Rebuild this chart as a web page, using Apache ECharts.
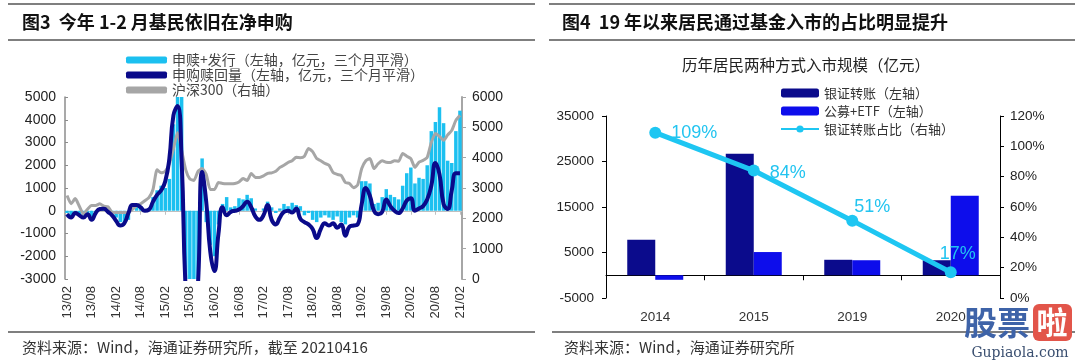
<!DOCTYPE html>
<html><head><meta charset="utf-8">
<script src="https://cdn.jsdelivr.net/npm/echarts/dist/echarts.min.js"></script>
<style>html,body{margin:0;padding:0;background:#fff}#c{width:1080px;height:361px}</style>
</head><body><div id="c"></div>
<script>
// ---------- Left chart data (monthly, 2013/02 - 2021/02) ----------
const months = [
'13/02','13/03','13/04','13/05','13/06','13/07','13/08','13/09','13/10','13/11','13/12',
'14/01','14/02','14/03','14/04','14/05','14/06','14/07','14/08','14/09','14/10','14/11','14/12',
'15/01','15/02','15/03','15/04','15/05','15/06','15/07','15/08','15/09','15/10','15/11','15/12',
'16/01','16/02','16/03','16/04','16/05','16/06','16/07','16/08','16/09','16/10','16/11','16/12',
'17/01','17/02','17/03','17/04','17/05','17/06','17/07','17/08','17/09','17/10','17/11','17/12',
'18/01','18/02','18/03','18/04','18/05','18/06','18/07','18/08','18/09','18/10','18/11','18/12',
'19/01','19/02','19/03','19/04','19/05','19/06','19/07','19/08','19/09','19/10','19/11','19/12',
'20/01','20/02','20/03','20/04','20/05','20/06','20/07','20/08','20/09','20/10','20/11','20/12',
'21/01','21/02'];
// 申赎+发行 (bars)
const flowBars = [
-100,-200,-50,-150,-200,-100,-250,-50,50,100,0,
-50,-300,-500,-600,-400,0,300,200,50,100,600,900,
1100,1000,1400,3800,6000,5500,-4000,-5000,-4500,-3500,2300,-500,
-1500,-2000,-600,300,600,150,200,550,500,700,550,100,
0,100,400,150,-100,100,300,200,350,250,200,-200,
-100,-400,-500,-300,-200,-300,-400,-250,-500,-600,-300,-200,
-300,1300,1300,1200,300,350,600,950,700,600,500,1100,
1650,1900,1200,1450,1400,2000,3500,3900,4550,3850,2200,2100,
3500,4400];
// 申购赎回量 (line)
const netSub = [
-150,-300,-100,-200,-300,-150,-400,-100,80,90,-50,
-200,-450,-650,-550,-100,250,250,150,0,50,400,700,
900,1300,2300,4200,4600,2200,-3500,-5000,-5000,-3200,1700,400,
-1800,-2650,-1000,150,-200,-50,0,50,200,400,150,-250,
-400,-200,250,-400,-600,-300,-50,0,-80,100,-350,-500,
-600,-800,-1200,-800,-550,-650,-550,-750,-600,-1100,-700,-650,
-600,300,1000,650,0,-150,-50,500,200,0,-100,100,
450,550,0,100,200,500,1100,2100,1600,300,80,900,
1650,1650];
// 沪深300 (right axis)
const hs300 = [
2750,2480,2650,2400,2150,2300,2420,2420,2480,2400,2380,
2200,2190,2190,2190,2200,2300,2420,2480,2580,2680,2950,3600,
3500,3550,3800,4300,4830,4240,3600,3300,3250,3550,3640,3450,
2950,2950,3180,3150,3140,3140,3150,3200,3310,3250,3480,3350,
3350,3400,3480,3500,3550,3680,3750,3840,3900,4010,4000,4050,
4300,4200,3970,3900,3810,3750,3510,3450,3410,3180,3150,3010,
3100,3640,3900,3970,3640,3800,3900,3850,3840,3900,3880,4140,
4050,3970,3680,3850,3910,4010,4500,4800,4700,4570,4750,4900,
5230,5400];

// ---------- Right chart data ----------
const years = ['2014','2015','2019','2020'];
const bankTransfer = [7800, 26700, 3400, 3300];   // 银证转账
const fundETF = [-1000, 5100, 3300, 17500];       // 公募+ETF
const bankShare = [109, 84, 51, 17];              // 银证转账占比 (%)

const L1 = '申赎+发行（左轴，亿元，三个月平滑）';
const L2 = '申购赎回量（左轴，亿元，三个月平滑）';
const L3 = '沪深300（右轴）';
const R1 = '银证转账（左轴）';
const R2 = '公募+ETF（左轴）';
const R3 = '银证转账占比（右轴）';

const FONT = '"Liberation Sans","Noto Sans CJK SC",sans-serif';
const CJK = '"Noto Sans CJK SC","Liberation Sans",sans-serif';
const CYAN = '#1CC0F0';
const NAVY = '#0A0A8A';
const GRAY = '#A6A6A6';
const LINEC = '#1EC6F2';
const plain = v => String(v);

const shareLabelCfg = [
  {position:'right', distance:10, offset:[0,0]},
  {position:'right', distance:10, offset:[0,2]},
  {position:'top', distance:5, offset:[20,6]},
  {position:'top', distance:5, offset:[7,2]}
];
const shareData = bankShare.map((v,i)=>({value:v, label:shareLabelCfg[i]}));

const chart = echarts.init(document.getElementById('c'), null, {renderer:'canvas'});
const option = {
  animation:false,
  backgroundColor:'#fff',
  textStyle:{fontFamily:FONT},
  grid:[
    {left:65, right:618, top:97, bottom:82},
    {left:606, right:80, top:116, bottom:63}
  ],
  legend:[
    {data:[L1,L2,L3], orient:'vertical', left:121, top:48, itemGap:1, itemWidth:41, itemHeight:7, itemTextGap:5,
     icon:'roundRect', textStyle:{fontFamily:CJK, fontSize:14, color:'#444', lineHeight:14}},
    {data:[R1,R2,{name:R3}], orient:'vertical', left:775, top:81, itemGap:4, itemWidth:38, itemHeight:9, itemTextGap:4,
     textStyle:{fontFamily:CJK, fontSize:13, color:'#333', lineHeight:14}}
  ],
  xAxis:[
    {gridIndex:0, type:'category', data:months, position:'bottom',
     axisLine:{show:false, onZero:false}, axisTick:{show:false},
     axisLabel:{rotate:90, interval:5, fontSize:13, color:'#333', margin:7, fontFamily:FONT}},
    {gridIndex:0, type:'category', data:months, position:'top',
     axisLine:{show:true, onZero:true, onZeroAxisIndex:0, lineStyle:{color:'#BFBFBF', width:1}},
     axisTick:{show:true, inside:true, interval:5, alignWithLabel:true, length:4, lineStyle:{color:'#BFBFBF'}},
     axisLabel:{show:false}},
    {gridIndex:1, type:'category', data:years, position:'bottom',
     axisLine:{show:false, onZero:false}, axisTick:{show:false},
     axisLabel:{fontSize:13.5, color:'#333', margin:13, fontFamily:FONT}},
    {gridIndex:1, type:'category', data:years, position:'top',
     axisLine:{show:true, onZero:true, onZeroAxisIndex:2, lineStyle:{color:'#000', width:1}},
     axisTick:{show:true, inside:true, length:5, lineStyle:{color:'#000'}},
     axisLabel:{show:false}}
  ],
  yAxis:[
    {gridIndex:0, type:'value', min:-3000, max:5000, interval:1000,
     axisLine:{show:true, lineStyle:{color:'#8C8C8C', width:1.5}},
     axisTick:{show:true, inside:true, length:3, lineStyle:{color:'#8C8C8C'}},
     splitLine:{show:false}, axisLabel:{fontSize:14, color:'#222', margin:9, fontFamily:FONT, formatter:plain}},
    {gridIndex:0, type:'value', position:'right', min:0, max:6000, interval:1000,
     axisLine:{show:true, lineStyle:{color:GRAY, width:2}},
     axisTick:{show:true, length:4, lineStyle:{color:GRAY}},
     splitLine:{show:false}, axisLabel:{fontSize:14, color:'#222', margin:10, fontFamily:FONT, formatter:plain}},
    {gridIndex:1, type:'value', min:-5000, max:35000, interval:10000,
     axisLine:{show:true, lineStyle:{color:'#000', width:1}},
     axisTick:{show:true, length:4, lineStyle:{color:'#000'}},
     splitLine:{show:false}, axisLabel:{fontSize:13.5, color:'#222', margin:12, fontFamily:FONT, formatter:plain}},
    {gridIndex:1, type:'value', position:'right', min:0, max:120, interval:20,
     axisLine:{show:true, lineStyle:{color:'#000', width:1}},
     axisTick:{show:true, length:4, lineStyle:{color:'#000'}},
     splitLine:{show:false}, axisLabel:{fontSize:13.5, color:'#222', margin:10, formatter:'{value}%', fontFamily:FONT}}
  ],
  series:[
    {type:'bar', name:L1, xAxisIndex:0, yAxisIndex:0, data:flowBars, barCategoryGap:'15%',
     itemStyle:{color:CYAN}, clip:true, z:2},
    {type:'line', name:L3, xAxisIndex:0, yAxisIndex:1, data:hs300, smooth:0.2, symbol:'none',
     lineStyle:{color:GRAY, width:3}, itemStyle:{color:GRAY}, clip:true, z:3},
    {type:'line', name:L2, xAxisIndex:0, yAxisIndex:0, data:netSub, smooth:0.5, symbol:'none',
     lineStyle:{color:NAVY, width:4}, itemStyle:{color:NAVY}, clip:true, z:4},
    {type:'bar', name:R1, xAxisIndex:2, yAxisIndex:2, data:bankTransfer, barWidth:28, barGap:'0%',
     itemStyle:{color:'#0B0B8C'}},
    {type:'bar', name:R2, xAxisIndex:2, yAxisIndex:2, data:fundETF, barWidth:28, barGap:'0%',
     itemStyle:{color:'#0D0DEB'}},
    {type:'line', name:R3, xAxisIndex:2, yAxisIndex:3, data:shareData, symbol:'circle', symbolSize:12,
     lineStyle:{color:LINEC, width:5}, itemStyle:{color:LINEC}, z:5,
     label:{show:true, formatter:'{c}%', color:'#22C4F0', fontSize:18, fontFamily:FONT}}
  ],
  graphic:[
    {type:'line', shape:{x1:8,y1:4,x2:535,y2:4}, style:{stroke:'#000', lineWidth:1.2}},
    {type:'line', shape:{x1:8,y1:40,x2:535,y2:40}, style:{stroke:'#000', lineWidth:1.2}},
    {type:'line', shape:{x1:549,y1:4,x2:1075,y2:4}, style:{stroke:'#000', lineWidth:1.2}},
    {type:'line', shape:{x1:549,y1:40,x2:1075,y2:40}, style:{stroke:'#000', lineWidth:1.2}},
    {type:'line', shape:{x1:8,y1:332,x2:535,y2:332}, style:{stroke:'#000', lineWidth:1.2}},
    {type:'line', shape:{x1:552,y1:332,x2:1075,y2:332}, style:{stroke:'#000', lineWidth:1.2}},
    {type:'text', style:{x:22, y:22, text:'图3  今年 1-2 月基民依旧在净申购', fontSize:18, fontWeight:'bold',
      fontFamily:CJK, fill:'#111', verticalAlign:'middle'}},
    {type:'text', style:{x:562, y:22, text:'图4  19 年以来居民通过基金入市的占比明显提升', fontSize:18, fontWeight:'bold',
      fontFamily:CJK, fill:'#111', verticalAlign:'middle'}},
    {type:'text', style:{x:806, y:65, text:'历年居民两种方式入市规模（亿元）', fontSize:15.5,
      fontFamily:CJK, fill:'#222', align:'center', verticalAlign:'middle'}},
    {type:'text', style:{x:22, y:347, text:'资料来源：Wind，海通证券研究所，截至 20210416', fontSize:15,
      fontFamily:CJK, fill:'#333', verticalAlign:'middle'}},
    {type:'text', style:{x:564, y:347, text:'资料来源：Wind，海通证券研究所', fontSize:15,
      fontFamily:CJK, fill:'#333', verticalAlign:'middle'}},
    {type:'text', z:100, style:{x:964, y:322, text:'股票', fontSize:33, fontWeight:'bold',
      fontFamily:CJK, fill:'#3E63A8', verticalAlign:'middle'}},
    {type:'rect', z:100, shape:{x:1033, y:304, width:39, height:37, r:6}, style:{fill:'#E2554A'}},
    {type:'text', z:101, style:{x:1052, y:322, text:'啦', fontSize:31, fontWeight:'bold',
      fontFamily:CJK, fill:'#fff', align:'center', verticalAlign:'middle'}},
    {type:'text', z:100, style:{x:1020, y:353, text:'Gupiaola.com', fontSize:14,
      fontFamily:'"DejaVu Serif",serif', fill:'#3A4F70', align:'center', verticalAlign:'middle'}}
  ]
};
chart.setOption(option);
</script>
</body></html>
